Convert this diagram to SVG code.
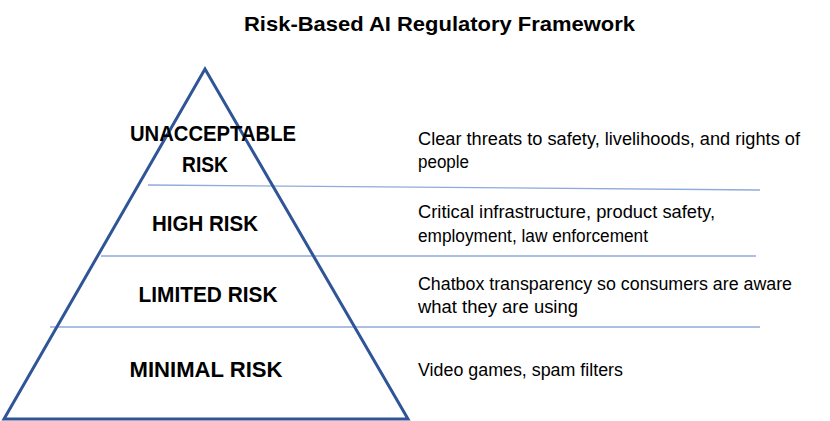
<svg xmlns="http://www.w3.org/2000/svg" width="830" height="421" viewBox="0 0 830 421">
<style>
.title{font-family:"Liberation Sans",Arial,sans-serif;font-weight:bold;font-size:21px;fill:#000}
.lvl{font-family:"Liberation Sans",Arial,sans-serif;font-weight:bold;font-size:21.5px;fill:#000;text-anchor:middle}
.desc{font-family:"Liberation Sans",Arial,sans-serif;font-size:17.5px;fill:#000}
.div{stroke:#8FAADC;stroke-width:1.3;fill:none}
.tri{stroke:#2F5597;stroke-width:3;fill:none;stroke-linejoin:miter}
</style>
<rect width="830" height="421" fill="#fff"/>
<text class="title" x="244" y="31" textLength="391" lengthAdjust="spacingAndGlyphs">Risk-Based AI Regulatory Framework</text>
<g id="connectors">
<line class="div" x1="148" y1="185" x2="760" y2="190"/>
<line class="div" x1="101" y1="256" x2="756" y2="256"/>
<line class="div" x1="50" y1="327" x2="760" y2="327"/>
</g>
<g id="pyramid">
<polygon class="tri" points="205,69 4,419 408,419"/>
</g>
<g id="unacceptable">
<text class="lvl" x="213" y="141" textLength="166" lengthAdjust="spacingAndGlyphs">UNACCEPTABLE</text>
<text class="lvl" x="205" y="172" textLength="46" lengthAdjust="spacingAndGlyphs">RISK</text>
<text class="desc" x="418" y="145" textLength="382" lengthAdjust="spacingAndGlyphs">Clear threats to safety, livelihoods, and rights of</text>
<text class="desc" x="418" y="168" textLength="51" lengthAdjust="spacingAndGlyphs">people</text>
</g>
<g id="high">
<text class="lvl" x="205" y="231" textLength="106" lengthAdjust="spacingAndGlyphs">HIGH RISK</text>
<text class="desc" x="418" y="218" textLength="297" lengthAdjust="spacingAndGlyphs">Critical infrastructure, product safety,</text>
<text class="desc" x="418" y="242" textLength="230" lengthAdjust="spacingAndGlyphs">employment, law enforcement</text>
</g>
<g id="limited">
<text class="lvl" x="208" y="302" textLength="139" lengthAdjust="spacingAndGlyphs">LIMITED RISK</text>
<text class="desc" x="418" y="290" textLength="374" lengthAdjust="spacingAndGlyphs">Chatbox transparency so consumers are aware</text>
<text class="desc" x="418" y="313" textLength="160" lengthAdjust="spacingAndGlyphs">what they are using</text>
</g>
<g id="minimal">
<text class="lvl" x="206" y="377" textLength="153" lengthAdjust="spacingAndGlyphs">MINIMAL RISK</text>
<text class="desc" x="418" y="376" textLength="205" lengthAdjust="spacingAndGlyphs">Video games, spam filters</text>
</g>
</svg>
